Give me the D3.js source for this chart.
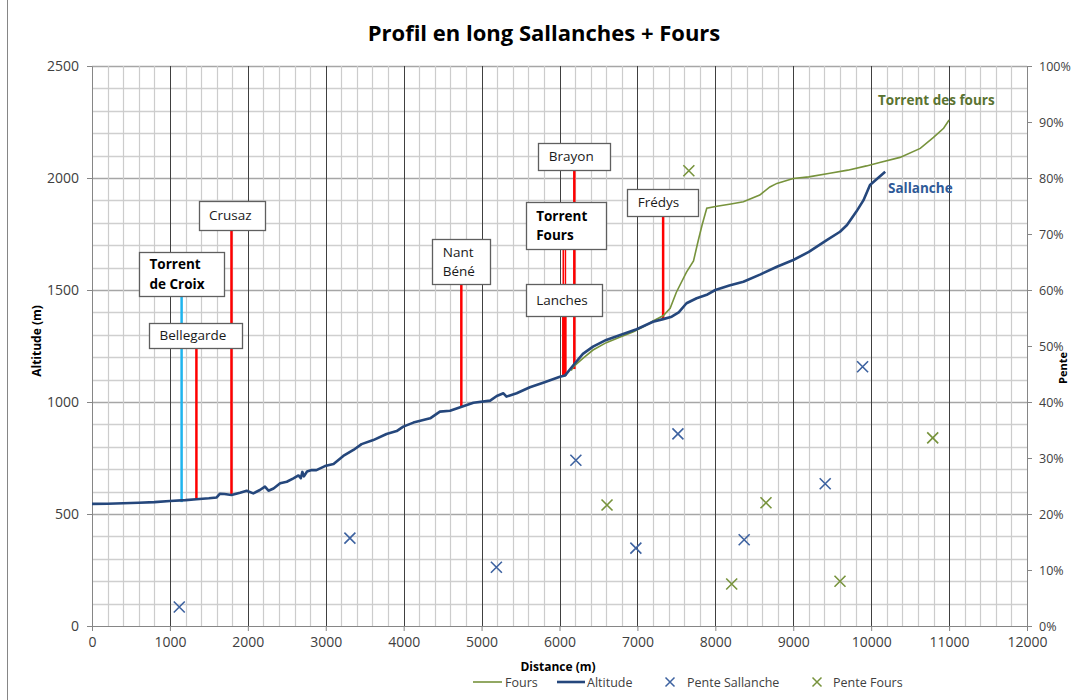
<!DOCTYPE html>
<html>
<head>
<meta charset="utf-8">
<script src="https://cdn.jsdelivr.net/npm/d3@7"></script>
<style>
	body { margin: 0; background: #fff; }
	text { font-family: 'Open Sans', sans-serif; fill: #404040; }
</style>
</head>
<body>
<script>
const width = 1071;
const height = 700;

// altitude profiles [distance m, altitude m]
const sallanche = [
	[0, 545], [200, 546], [400, 548], [600, 550], [800, 553], [1000, 558], [1200, 562], [1340, 566],
	[1500, 570], [1600, 574], [1640, 590], [1700, 589], [1790, 585], [1900, 595], [1985, 604],
	[2070, 592], [2155, 607], [2220, 622], [2265, 604], [2330, 614], [2415, 637], [2500, 644],
	[2585, 659], [2650, 672], [2680, 660], [2700, 688], [2720, 668], [2760, 690], [2820, 696],
	[2880, 696], [2990, 714], [3100, 723], [3225, 759], [3355, 786], [3460, 812], [3610, 830],
	[3780, 857], [3910, 870], [3995, 890], [4125, 908], [4340, 927], [4465, 957], [4595, 961],
	[4745, 979], [4895, 997], [5110, 1006], [5195, 1027], [5280, 1039], [5320, 1024], [5450, 1039],
	[5620, 1066], [5790, 1086], [6005, 1113], [6070, 1118], [6180, 1165], [6300, 1215], [6430, 1247],
	[6600, 1277], [6780, 1299], [6990, 1325], [7200, 1358], [7330, 1370], [7440, 1381], [7530, 1400],
	[7630, 1441], [7760, 1463], [7900, 1480], [8000, 1500], [8180, 1520], [8360, 1537], [8580, 1570],
	[8790, 1604], [9000, 1634], [9200, 1670], [9430, 1723], [9600, 1760], [9690, 1790], [9810, 1850],
	[9900, 1900], [9985, 1969], [10180, 2028],
];
const fours = [
	[6150, 1140], [6180, 1158], [6300, 1195], [6430, 1232], [6600, 1265], [6780, 1290], [6950, 1314],
	[7100, 1340], [7200, 1362], [7330, 1385], [7420, 1418], [7500, 1490], [7630, 1580], [7720, 1630],
	[7780, 1720], [7830, 1790], [7890, 1865], [8020, 1874], [8200, 1884], [8360, 1894], [8570, 1924],
	[8700, 1960], [8790, 1976], [9000, 1998], [9200, 2005], [9470, 2021], [9700, 2035], [9940, 2054],
	[10110, 2069], [10370, 2092], [10630, 2132], [10800, 2181], [10930, 2222], [11000, 2259],
];

// slopes [distance m, slope]
const penteSallanche = [
	[1120, 0.034], [3310, 0.157], [5190, 0.105], [6210, 0.296], [6980, 0.139],
	[7520, 0.343], [8370, 0.154], [9410, 0.254], [9890, 0.463],
];
const penteFours = [
	[7660, 0.813], [6610, 0.216], [8210, 0.075], [8650, 0.22], [9600, 0.08], [10790, 0.336],
];

// tributaries: distance, top of stem (m), foot of stem (m)
const markerNames = ['Torrent de Croix', 'Bellegarde', 'Crusaz', 'Nant Béné', 'Torrent Fours', 'Torrent Fours', 'Lanches', 'Brayon', 'Frédys'];
const markerDist = [1150, 1340, 1790, 4740, 6048, 6076, 6062, 6190, 7330];
const markerTop = [1473, 1246, 1772, 1527, 1683, 1683, 1380, 2036, 1830];
const markerFoot = [553, 567, 583, 982, 1120, 1130, 1116, 1147, 1370];

// label boxes: text lines, left/right distance, top/bottom altitude
const boxLines = [['Crusaz'], ['Torrent', 'de Croix'], ['Bellegarde'], ['Nant', 'Béné'], ['Brayon'], ['Torrent', 'Fours'], ['Lanches'], ['Frédys']];
const boxBold = [false, true, false, false, false, true, false, false];
const boxX = [[1367, 2214], [603, 1698], [732, 1929], [4367, 5117], [5728, 6648], [5566, 6597], [5566, 6546], [6870, 7781]];
const boxY = [[1899, 1771], [1668, 1473], [1354, 1244], [1726, 1527], [2155, 2036], [1892, 1683], [1525, 1381], [1951, 1830]];

const xTicks = d3.range(0, 12001, 1000);
const yTicks = d3.range(0, 2501, 500);
const pctTicks = d3.range(0, 1.001, 0.1);

const blue = '#25477c';
const green = '#77933c';
const xBlue = '#3d62a0';

const svg = d3.select('body').append('svg').attr('width', width).attr('height', height);

svg.append('rect').attr('width', width).attr('height', height).attr('fill', '#fff');
// chart frame (only left edge visible)
svg.append('rect')
	.attr('x', 7.5)
	.attr('y', -10)
	.attr('width', 1100)
	.attr('height', 720)
	.attr('fill', 'none')
	.attr('stroke', '#868686');

const x = d3.scaleLinear().domain([0, 12000]).range([92, 1027]);
const y = d3.scaleLinear().domain([0, 2500]).range([626, 66]);
const yPct = d3.scaleLinear().domain([0, 1]).range([626, 66]);

// grid
const grid = svg.append('g');
grid.selectAll('.hmin')
	.data(d3.range(100, 2501, 100))
	.enter()
	.append('line')
	.attr('x1', x(0))
	.attr('x2', x(12000))
	.attr('y1', (d) => Math.round(y(d)) + 0.5)
	.attr('y2', (d) => Math.round(y(d)) + 0.5)
	.attr('stroke', (d) => (d % 500 === 0 ? '#a6a6a6' : '#cfcfcf'))
	.attr('stroke-width', 1.3);
grid.selectAll('.vmin')
	.data(d3.range(200, 12000, 200).filter((d) => d % 1000 !== 0))
	.enter()
	.append('line')
	.attr('x1', (d) => Math.round(x(d)) + 0.5)
	.attr('x2', (d) => Math.round(x(d)) + 0.5)
	.attr('y1', y(2500))
	.attr('y2', y(0))
	.attr('stroke', '#cccccc')
	.attr('stroke-width', 1.2);
grid.selectAll('.vmaj')
	.data(d3.range(1000, 12000, 1000))
	.enter()
	.append('line')
	.attr('x1', (d) => Math.round(x(d)) + 0.5)
	.attr('x2', (d) => Math.round(x(d)) + 0.5)
	.attr('y1', y(2500))
	.attr('y2', y(0))
	.attr('stroke', '#404040')
	.attr('stroke-width', 1);

// axes
function styleAxis(g, size) {
	g.selectAll('path, line').attr('stroke', '#868686');
	g.selectAll('text').attr('fill', '#404040').style('font-size', size).style('font-family', "'Open Sans', sans-serif");
}

svg.append('g')
	.attr('transform', `translate(${x(0)},0)`)
	.call(d3.axisLeft(y).tickValues(yTicks).tickFormat(d3.format('d')).tickSize(5).tickSizeOuter(0).tickPadding(8))
	.call(styleAxis, '14px');

svg.append('g')
	.attr('transform', `translate(0,${y(0)})`)
	.call(d3.axisBottom(x).tickValues(xTicks).tickFormat(d3.format('d')).tickSize(5).tickSizeOuter(0).tickPadding(6))
	.call(styleAxis, '14px');

svg.append('g')
	.attr('transform', `translate(${x(12000)},0)`)
	.call(d3.axisRight(yPct).tickValues(pctTicks).tickFormat(d3.format('.0%')).tickSize(5).tickSizeOuter(0).tickPadding(7))
	.call(styleAxis, '12.5px');

// tributary stems
const markers = markerNames.map((name, i) => ({ name, dist: markerDist[i], top: markerTop[i], foot: markerFoot[i] }));
svg.append('g')
	.selectAll('line')
	.data(markers)
	.enter()
	.append('line')
	.attr('x1', (d) => x(d.dist))
	.attr('x2', (d) => x(d.dist))
	.attr('y1', (d) => y(d.top))
	.attr('y2', (d) => y(d.foot))
	.attr('stroke', (d) => (d.name === 'Torrent de Croix' ? '#1fb4ee' : '#ff0000'))
	.attr('stroke-width', (d) => (d.name === 'Torrent Fours' ? 1.5 : d.name === 'Lanches' ? 4.5 : 2.5));

// profiles
const line = d3.line().x((d) => x(d[0])).y((d) => y(d[1]));

svg.append('path')
	.datum(fours)
	.attr('d', line)
	.attr('fill', 'none')
	.attr('stroke', green)
	.attr('stroke-width', 1.6);

svg.append('path')
	.datum(sallanche)
	.attr('d', line)
	.attr('fill', 'none')
	.attr('stroke', blue)
	.attr('stroke-width', 2.6)
	.attr('stroke-linejoin', 'round');

// slope crosses
function cross(sel, color) {
	sel.append('path')
		.attr('d', 'M-5.5,-5.5L5.5,5.5M-5.5,5.5L5.5,-5.5')
		.attr('stroke', color)
		.attr('stroke-width', 1.6)
		.attr('fill', 'none');
}
[
	[penteSallanche, xBlue],
	[penteFours, green],
].forEach(([data, color]) => {
	svg.append('g')
		.selectAll('g')
		.data(data)
		.enter()
		.append('g')
		.attr('transform', (d) => `translate(${x(d[0])},${yPct(d[1])})`)
		.call(cross, color);
});

// label boxes
const boxes = boxLines.map((lines, i) => ({ lines, bold: boxBold[i], x0: boxX[i][0], x1: boxX[i][1], y0: boxY[i][0], y1: boxY[i][1] }));
const box = svg.append('g')
	.selectAll('g')
	.data(boxes)
	.enter()
	.append('g');
box.append('rect')
	.attr('x', (d) => Math.round(x(d.x0)) + 0.5)
	.attr('y', (d) => Math.round(y(d.y0)) + 0.5)
	.attr('width', (d) => Math.round(x(d.x1) - x(d.x0)))
	.attr('height', (d) => Math.round(y(d.y1) - y(d.y0)))
	.attr('fill', '#fff')
	.attr('stroke', '#5f5f5f')
	.attr('stroke-width', 1.3);
box.each(function (d) {
	const cy = (y(d.y0) + y(d.y1)) / 2;
	const n = d.lines.length;
	d3.select(this)
		.selectAll('text')
		.data(d.lines)
		.enter()
		.append('text')
		.attr('x', x(d.x0) + 10.5)
		.attr('y', (t, i) => cy + (i - (n - 1) / 2) * 19.6)
		.attr('dy', '0.36em')
		.style('font-size', '13.5px')
		.style('font-weight', d.bold ? 700 : 400)
		.style('fill', d.bold ? '#000' : '#1a1a1a')
		.text((t) => t);
});

// series labels
svg.append('text')
	.attr('x', 878)
	.attr('y', 105)
	.style('font-size', '13.5px')
	.style('font-weight', 700)
	.style('fill', '#5a7331')
	.text('Torrent des fours');
svg.append('text')
	.attr('x', 888)
	.attr('y', 193)
	.style('font-size', '13.5px')
	.style('font-weight', 700)
	.style('fill', '#2f5a98')
	.text('Sallanche');

// titles
svg.append('text')
	.attr('x', 544)
	.attr('y', 41)
	.attr('text-anchor', 'middle')
	.style('font-size', '22px')
	.style('font-weight', 700)
	.style('fill', '#000')
	.text('Profil en long Sallanches + Fours');

svg.append('text')
	.attr('transform', 'translate(41,341) rotate(-90)')
	.attr('text-anchor', 'middle')
	.style('font-size', '12px')
	.style('font-weight', 700)
	.style('fill', '#000')
	.text('Altitude (m)');

svg.append('text')
	.attr('transform', 'translate(1067,368) rotate(-90)')
	.attr('text-anchor', 'middle')
	.style('font-size', '11px')
	.style('font-weight', 700)
	.style('fill', '#000')
	.text('Pente');

svg.append('text')
	.attr('x', 558)
	.attr('y', 671)
	.attr('text-anchor', 'middle')
	.style('font-size', '12px')
	.style('font-weight', 700)
	.style('fill', '#000')
	.text('Distance (m)');

// legend
const legend = svg.append('g').attr('transform', 'translate(0,682)');
const legendItems = [
	{ label: 'Fours', kind: 'line', color: green, w: 1.6, x0: 473, x1: 502, tx: 505 },
	{ label: 'Altitude', kind: 'line', color: blue, w: 2.6, x0: 557, x1: 585, tx: 587 },
	{ label: 'Pente Sallanche', kind: 'cross', color: xBlue, x0: 670, tx: 687 },
	{ label: 'Pente Fours', kind: 'cross', color: green, x0: 817, tx: 833 },
];
legendItems.forEach((d) => {
	if (d.kind === 'line') {
		legend.append('line').attr('x1', d.x0).attr('x2', d.x1).attr('stroke', d.color).attr('stroke-width', d.w);
	} else {
		legend.append('g')
			.attr('transform', `translate(${d.x0},0)`)
			.append('path')
			.attr('d', 'M-4.5,-4.5L4.5,4.5M-4.5,4.5L4.5,-4.5')
			.attr('stroke', d.color)
			.attr('stroke-width', 1.5);
	}
	legend.append('text')
		.attr('x', d.tx)
		.attr('dy', '0.36em')
		.style('font-size', '12.5px')
		.text(d.label);
});
</script>
</body>
</html>
